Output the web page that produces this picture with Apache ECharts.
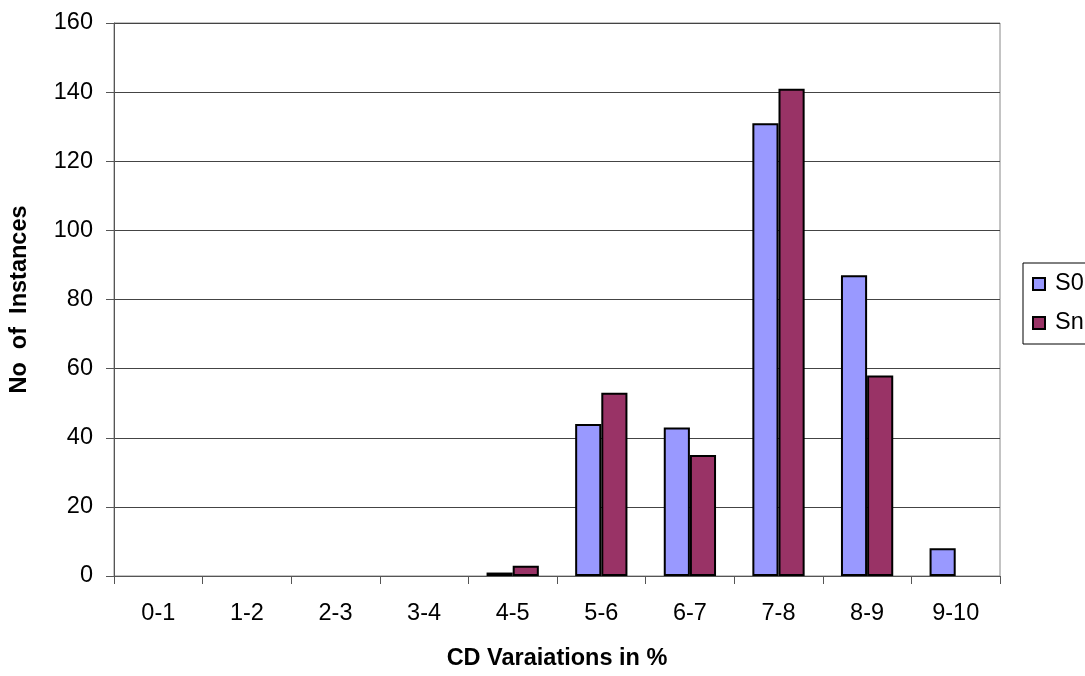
<!DOCTYPE html>
<html>
<head>
<meta charset="utf-8">
<script src="https://cdn.jsdelivr.net/npm/echarts@6/dist/echarts.min.js"></script>
<style>
html,body{margin:0;padding:0;background:#fff;overflow:hidden;}
#c{width:1085px;height:676px;}
</style>
</head>
<body>
<div id="c"></div>
<script>
const categories = ['0-1','1-2','2-3','3-4','4-5','5-6','6-7','7-8','8-9','9-10'];
const s0Values = [0,0,0,0,1,44,43,131,87,8];
const snValues = [0,0,0,0,3,53,35,141,58,0];
const yTicks = {min:0, max:160, interval:20};

const font = '"Liberation Sans", Arial, sans-serif';
const fs = 23.5;
const hideZero = arr => arr.map(v => v === 0 ? '-' : v);
const chart = echarts.init(document.getElementById('c'), null, {renderer:'canvas'});
chart.setOption({
  animation:false,
  backgroundColor:'#fff',
  textStyle:{fontFamily:font},
  grid:{left:112,right:85,top:23,bottom:92,show:true,borderColor:'#888',borderWidth:1,backgroundColor:'transparent'},
  legend:{
    orient:'vertical', left:1023, top:263,
    padding:[9,12,9,9], itemGap:15, itemWidth:12, itemHeight:12,
    borderColor:'#000', borderWidth:1, icon:'rect',
    textStyle:{fontFamily:font,fontSize:fs,color:'#000',padding:[0,0,0,5]},
    data:['S0','Sn']
  },
  xAxis:{
    type:'category', data:categories,
    name:'CD Varaiations in %', nameLocation:'middle', nameGap:71,
    nameTextStyle:{fontFamily:font,fontSize:fs,fontWeight:'bold',color:'#000'},
    axisLine:{lineStyle:{color:'#555',width:1}},
    axisTick:{show:true,length:8,alignWithLabel:false,lineStyle:{color:'#555'}},
    axisLabel:{fontFamily:font,fontSize:fs,color:'#000',margin:26,interval:0},
    splitLine:{show:false}
  },
  yAxis:{
    type:'value', min:yTicks.min, max:yTicks.max, interval:yTicks.interval,
    name:'No  of  Instances', nameLocation:'middle', nameGap:82,
    nameTextStyle:{fontFamily:font,fontSize:fs,fontWeight:'bold',color:'#000'},
    axisLine:{show:true,lineStyle:{color:'#555',width:1}},
    axisTick:{show:true,length:8,lineStyle:{color:'#555'}},
    axisLabel:{fontFamily:font,fontSize:fs,color:'#000',margin:21},
    splitLine:{show:true,lineStyle:{color:'#444',width:1}}
  },
  series:[
    {name:'S0',type:'bar',data:hideZero(s0Values),barGap:'0%',barCategoryGap:'41%',
     itemStyle:{color:'#9999FF',borderColor:'#000',borderWidth:2}},
    {name:'Sn',type:'bar',data:hideZero(snValues),barGap:'0%',barCategoryGap:'41%',
     itemStyle:{color:'#993366',borderColor:'#000',borderWidth:2}}
  ]
});
</script>
</body>
</html>
